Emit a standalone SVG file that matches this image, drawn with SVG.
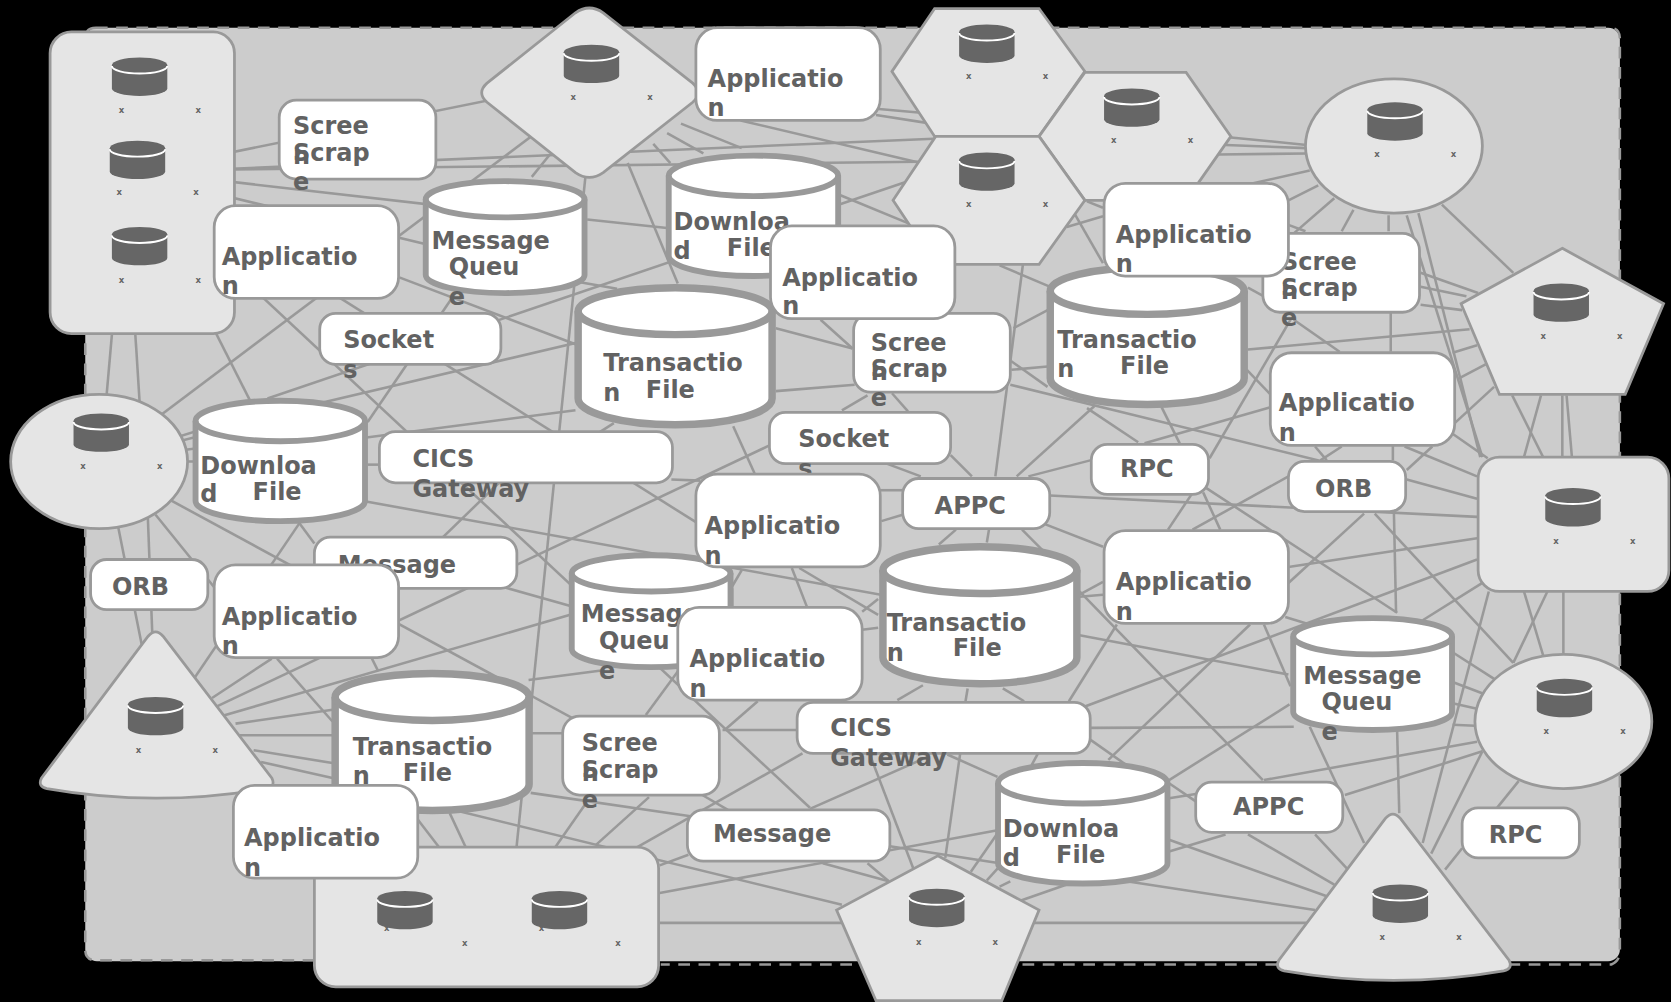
<svg xmlns="http://www.w3.org/2000/svg" width="1671" height="1002" viewBox="0 0 1671 1002">
<style>
.f{fill:#e5e5e5;stroke:#999;stroke-width:2.6}
.l{fill:#fff;stroke:#999;stroke-width:2.6}
.t{font-family:"DejaVu Sans",sans-serif;font-weight:700;font-size:22.5px;fill:#626262}
.x{font-family:"DejaVu Sans",sans-serif;font-size:8px;font-weight:700;fill:#666;text-anchor:middle}
.c5{fill:#fff;stroke:#999;stroke-width:5.5}
.c7{fill:#fff;stroke:#999;stroke-width:7}
.o{fill:none}
</style>
<defs>
<g id="icon"><path d="M-26,-11V11A26,7 0 0 0 26,11V-11Z" fill="#666"/><ellipse cx="0" cy="-11" rx="26" ry="7" fill="#666"/><path d="M-26,-10A26,7 0 0 0 26,-10" fill="none" stroke="#fff" stroke-width="1.8"/></g>
<g id="mq"><path class="c5" d="M1.5,19A74.5,17 0 0 1 150.5,19V90A74.5,17 0 0 1 1.5,90Z"/><path class="c5 o" d="M1.5,19A74.5,17 0 0 0 150.5,19"/></g>
<g id="df"><path class="c5" d="M1.5,21A79.5,19 0 0 1 160.5,21V96A79.5,19 0 0 1 1.5,96Z"/><path class="c5 o" d="M1.5,21A79.5,19 0 0 0 160.5,21"/></g>
<g id="tf"><path class="c7" d="M2.5,25A91,22 0 0 1 184.5,25V107A91,24.5 0 0 1 2.5,107Z"/><path class="c7 o" d="M2.5,25A91,22 0 0 0 184.5,25"/></g>
<path id="tri" class="f" d="M139,597Q146,589 153,597L255,730Q259,738 250,740Q146,758 44,740Q35,738 39,730Z"/>
<rect id="app" class="l" width="173" height="87" rx="20"/>
<rect id="ss" class="l" width="147" height="74" rx="16"/>
<rect id="sock" class="l" width="170" height="48" rx="15"/>
<rect id="cics" class="l" width="275" height="48" rx="15"/>
<rect id="small" class="l" width="110" height="47" rx="15"/>
<rect id="appc" class="l" width="138" height="47" rx="15"/>
<rect id="msg" class="l" width="190" height="48" rx="15"/>
</defs>
<rect width="1671" height="1002" fill="#000"/>
<g transform="scale(1.0657)">
<g id="frame">
<rect x="80" y="26" width="1440" height="876" rx="11" fill="#cccccc"/>
<path d="M90,26H1510Q1520,26 1520,36V892Q1520,902 1512,905H620M295,901H90Q80,901 80,891V36Q80,26 90,26" fill="none" stroke="#999" stroke-width="2.4" stroke-dasharray="11 8"/>
</g>
<g id="connectors" stroke="#999" stroke-width="2.4" fill="none">
<line x1="133" y1="160" x2="553" y2="75"/>
<line x1="133" y1="162" x2="926" y2="128"/>
<line x1="133" y1="160" x2="926" y2="151"/>
<line x1="133" y1="161" x2="474" y2="200"/>
<line x1="133" y1="165" x2="474" y2="247"/>
<line x1="93" y1="433" x2="553" y2="87"/>
<line x1="374" y1="260" x2="540" y2="323"/>
<line x1="210" y1="245" x2="760" y2="758"/>
<line x1="131" y1="171" x2="263" y2="432"/>
<line x1="105" y1="314" x2="100" y2="371"/>
<line x1="127" y1="314" x2="131" y2="377"/>
<line x1="288" y1="260" x2="653" y2="490"/>
<line x1="345" y1="396" x2="430" y2="271"/>
<line x1="251" y1="374" x2="852" y2="170"/>
<line x1="263" y1="387" x2="633" y2="300"/>
<line x1="93" y1="433" x2="263" y2="380"/>
<line x1="93" y1="433" x2="263" y2="410"/>
<line x1="93" y1="433" x2="263" y2="390"/>
<line x1="93" y1="433" x2="263" y2="433"/>
<line x1="263" y1="421" x2="540" y2="385"/>
<line x1="345" y1="436" x2="356" y2="436"/>
<line x1="93" y1="433" x2="602" y2="709"/>
<line x1="263" y1="456" x2="920" y2="575"/>
<line x1="100" y1="440" x2="146" y2="670"/>
<line x1="137" y1="440" x2="145" y2="650"/>
<line x1="146" y1="483" x2="201" y2="551"/>
<line x1="146" y1="690" x2="285" y2="485"/>
<line x1="199" y1="655" x2="255" y2="618"/>
<line x1="146" y1="690" x2="722" y2="418"/>
<line x1="146" y1="690" x2="610" y2="555"/>
<line x1="221" y1="679" x2="312" y2="666"/>
<line x1="225" y1="690" x2="312" y2="690"/>
<line x1="238" y1="704" x2="312" y2="716"/>
<line x1="245" y1="715" x2="312" y2="730"/>
<line x1="260" y1="618" x2="312" y2="677"/>
<line x1="349" y1="618" x2="355" y2="630"/>
<line x1="391" y1="528" x2="611" y2="590"/>
<line x1="553" y1="130" x2="478" y2="860"/>
<line x1="391" y1="528" x2="493" y2="429"/>
<line x1="281" y1="491" x2="295" y2="510"/>
<line x1="422" y1="763" x2="437" y2="795"/>
<line x1="392" y1="769" x2="412" y2="795"/>
<line x1="405" y1="755" x2="790" y2="849"/>
<line x1="498" y1="744" x2="648" y2="766"/>
<line x1="495" y1="688" x2="528" y2="688"/>
<line x1="496" y1="638" x2="566" y2="629"/>
<line x1="630" y1="450" x2="657" y2="451"/>
<line x1="606" y1="671" x2="636" y2="630"/>
<line x1="760" y1="759" x2="871" y2="710"/>
<line x1="678" y1="685" x2="748" y2="685"/>
<line x1="680" y1="685" x2="711" y2="658"/>
<line x1="659" y1="746" x2="683" y2="760"/>
<line x1="598" y1="795" x2="753" y2="707"/>
<line x1="609" y1="748" x2="559" y2="793"/>
<line x1="549" y1="755" x2="521" y2="795"/>
<line x1="619" y1="812" x2="646" y2="802"/>
<line x1="619" y1="838" x2="936" y2="779"/>
<line x1="619" y1="866" x2="1226" y2="866"/>
<line x1="772" y1="810" x2="834" y2="827"/>
<line x1="814" y1="810" x2="834" y2="827"/>
<line x1="817" y1="710" x2="857" y2="815"/>
<line x1="901" y1="707" x2="887" y2="805"/>
<line x1="835" y1="794" x2="938" y2="810"/>
<line x1="938" y1="779" x2="911" y2="818"/>
<line x1="936" y1="815" x2="926" y2="826"/>
<line x1="1001" y1="830" x2="958" y2="845"/>
<line x1="948" y1="827" x2="938" y2="832"/>
<line x1="889" y1="708" x2="936" y2="729"/>
<line x1="974" y1="707" x2="968" y2="718"/>
<line x1="842" y1="657" x2="866" y2="643"/>
<line x1="908" y1="646" x2="906" y2="658"/>
<line x1="941" y1="646" x2="961" y2="658"/>
<line x1="1003" y1="658" x2="1048" y2="586"/>
<line x1="1023" y1="683" x2="1214" y2="682"/>
<line x1="1023" y1="694" x2="1060" y2="720"/>
<line x1="809" y1="574" x2="824" y2="562"/>
<line x1="809" y1="591" x2="824" y2="589"/>
<line x1="743" y1="533" x2="757" y2="569"/>
<line x1="750" y1="533" x2="824" y2="577"/>
<line x1="696" y1="535" x2="686" y2="552"/>
<line x1="687" y1="552" x2="687" y2="570"/>
<line x1="881" y1="511" x2="897" y2="497"/>
<line x1="926" y1="509" x2="928" y2="497"/>
<line x1="978" y1="516" x2="959" y2="497"/>
<line x1="981" y1="492" x2="1035" y2="513"/>
<line x1="827" y1="489" x2="847" y2="483"/>
<line x1="1013" y1="558" x2="1035" y2="546"/>
<line x1="1013" y1="560" x2="1035" y2="558"/>
<line x1="1013" y1="596" x2="1209" y2="633"/>
<line x1="1013" y1="555" x2="1185" y2="732"/>
<line x1="822" y1="102" x2="867" y2="106"/>
<line x1="822" y1="108" x2="874" y2="116"/>
<line x1="695" y1="113" x2="864" y2="153"/>
<line x1="639" y1="116" x2="696" y2="139"/>
<line x1="626" y1="125" x2="660" y2="144"/>
<line x1="613" y1="135" x2="629" y2="153"/>
<line x1="589" y1="153" x2="636" y2="266"/>
<line x1="499" y1="166" x2="516" y2="145"/>
<line x1="551" y1="206" x2="626" y2="214"/>
<line x1="539" y1="264" x2="579" y2="271"/>
<line x1="788" y1="183" x2="856" y2="211"/>
<line x1="770" y1="300" x2="800" y2="327"/>
<line x1="728" y1="308" x2="800" y2="327"/>
<line x1="728" y1="367" x2="802" y2="361"/>
<line x1="688" y1="400" x2="708" y2="444"/>
<line x1="790" y1="385" x2="814" y2="371"/>
<line x1="837" y1="369" x2="852" y2="386"/>
<line x1="832" y1="435" x2="864" y2="447"/>
<line x1="892" y1="427" x2="912" y2="447"/>
<line x1="960" y1="247" x2="934" y2="447"/>
<line x1="1027" y1="381" x2="954" y2="447"/>
<line x1="1023" y1="432" x2="965" y2="447"/>
<line x1="938" y1="249" x2="985" y2="269"/>
<line x1="949" y1="339" x2="983" y2="363"/>
<line x1="951" y1="308" x2="983" y2="291"/>
<line x1="949" y1="347" x2="983" y2="344"/>
<line x1="948" y1="361" x2="1245" y2="434"/>
<line x1="824" y1="460" x2="847" y2="460"/>
<line x1="1008" y1="200" x2="1035" y2="247"/>
<line x1="1001" y1="213" x2="1035" y2="203"/>
<line x1="1020" y1="189" x2="1035" y2="195"/>
<line x1="576" y1="397" x2="562" y2="406"/>
<line x1="1155" y1="129" x2="1226" y2="136"/>
<line x1="1150" y1="136" x2="1226" y2="139"/>
<line x1="1143" y1="145" x2="1226" y2="144"/>
<line x1="1176" y1="172" x2="1229" y2="160"/>
<line x1="1209" y1="188" x2="1237" y2="174"/>
<line x1="1214" y1="219" x2="1252" y2="186"/>
<line x1="1259" y1="217" x2="1270" y2="197"/>
<line x1="1303" y1="217" x2="1303" y2="202"/>
<line x1="1320" y1="202" x2="1391" y2="429"/>
<line x1="1331" y1="200" x2="1389" y2="429"/>
<line x1="1353" y1="192" x2="1420" y2="256"/>
<line x1="1209" y1="211" x2="1225" y2="217"/>
<line x1="1333" y1="256" x2="1387" y2="275"/>
<line x1="1333" y1="269" x2="1376" y2="278"/>
<line x1="1333" y1="286" x2="1372" y2="291"/>
<line x1="1305" y1="292" x2="1305" y2="330"/>
<line x1="1171" y1="328" x2="1379" y2="309"/>
<line x1="1171" y1="270" x2="1186" y2="278"/>
<line x1="1214" y1="300" x2="1257" y2="330"/>
<line x1="1211" y1="300" x2="1135" y2="430"/>
<line x1="1363" y1="331" x2="1386" y2="324"/>
<line x1="1369" y1="355" x2="1394" y2="342"/>
<line x1="1364" y1="398" x2="1402" y2="363"/>
<line x1="1419" y1="371" x2="1448" y2="429"/>
<line x1="1446" y1="371" x2="1430" y2="429"/>
<line x1="1466" y1="371" x2="1466" y2="429"/>
<line x1="1470" y1="371" x2="1475" y2="429"/>
<line x1="1363" y1="407" x2="1396" y2="430"/>
<line x1="1318" y1="419" x2="1386" y2="447"/>
<line x1="1320" y1="450" x2="1386" y2="468"/>
<line x1="1320" y1="441" x2="1344" y2="419"/>
<line x1="1307" y1="418" x2="1307" y2="432"/>
<line x1="1234" y1="419" x2="1245" y2="432"/>
<line x1="1259" y1="419" x2="1239" y2="432"/>
<line x1="1209" y1="447" x2="1119" y2="497"/>
<line x1="1170" y1="347" x2="1193" y2="371"/>
<line x1="1193" y1="382" x2="1074" y2="416"/>
<line x1="1090" y1="382" x2="1107" y2="416"/>
<line x1="1020" y1="383" x2="1068" y2="415"/>
<line x1="985" y1="465" x2="1386" y2="485"/>
<line x1="1209" y1="532" x2="1386" y2="505"/>
<line x1="1209" y1="547" x2="1280" y2="482"/>
<line x1="1308" y1="482" x2="1310" y2="575"/>
<line x1="1290" y1="482" x2="1420" y2="622"/>
<line x1="1132" y1="458" x2="1311" y2="575"/>
<line x1="1018" y1="663" x2="1386" y2="525"/>
<line x1="1335" y1="582" x2="1391" y2="547"/>
<line x1="1397" y1="555" x2="1335" y2="791"/>
<line x1="1430" y1="555" x2="1448" y2="615"/>
<line x1="1452" y1="555" x2="1420" y2="622"/>
<line x1="1467" y1="555" x2="1467" y2="613"/>
<line x1="1363" y1="612" x2="1402" y2="637"/>
<line x1="1363" y1="640" x2="1392" y2="651"/>
<line x1="1363" y1="660" x2="1386" y2="665"/>
<line x1="1363" y1="680" x2="1384" y2="681"/>
<line x1="1186" y1="586" x2="1211" y2="644"/>
<line x1="1173" y1="586" x2="1040" y2="713"/>
<line x1="1210" y1="661" x2="1097" y2="732"/>
<line x1="1186" y1="732" x2="1386" y2="696"/>
<line x1="1262" y1="746" x2="1391" y2="705"/>
<line x1="1229" y1="682" x2="1280" y2="791"/>
<line x1="1311" y1="686" x2="1313" y2="763"/>
<line x1="1391" y1="705" x2="1343" y2="801"/>
<line x1="1425" y1="733" x2="1404" y2="759"/>
<line x1="1372" y1="796" x2="1356" y2="816"/>
<line x1="1171" y1="783" x2="1252" y2="830"/>
<line x1="1234" y1="783" x2="1264" y2="815"/>
<line x1="1097" y1="788" x2="1245" y2="841"/>
<line x1="1097" y1="799" x2="1150" y2="783"/>
<line x1="1051" y1="826" x2="1234" y2="854"/>
<line x1="1097" y1="735" x2="1122" y2="752"/>
<line x1="1097" y1="749" x2="1122" y2="745"/>
<line x1="1122" y1="458" x2="1096" y2="497"/>
<line x1="1129" y1="462" x2="1145" y2="497"/>
<line x1="1206" y1="579" x2="1229" y2="586"/>
</g>
<g id="group-rect-left"><rect class="f" x="47" y="30" width="173" height="283" rx="20"/><use href="#icon" x="131" y="72"/><use href="#icon" x="129" y="150"/><use href="#icon" x="131" y="231"/><text class="x" x="114" y="106">x</text><text class="x" x="186" y="106">x</text><text class="x" x="112" y="183">x</text><text class="x" x="184" y="183">x</text><text class="x" x="114" y="266">x</text><text class="x" x="186" y="266">x</text></g>
<g id="group-diamond"><path class="f" d="M457,78L540,12Q553,3 566,12L650,78Q660,87 650,96L566,162Q553,171 540,162L457,96Q447,87 457,78Z"/><use href="#icon" x="555" y="60"/><text class="x" x="538" y="94">x</text><text class="x" x="610" y="94">x</text></g>
<g id="group-hex-1"><path class="f" d="M837,67L877,8H975L1018,67L975,128H877Z"/><use href="#icon" x="926" y="41"/><text class="x" x="909" y="74">x</text><text class="x" x="981" y="74">x</text></g>
<g id="group-hex-2"><path class="f" d="M975,128L1018,68H1113L1155,128L1113,188H1018Z"/><use href="#icon" x="1062" y="101"/><text class="x" x="1045" y="134">x</text><text class="x" x="1117" y="134">x</text></g>
<g id="group-hex-3"><path class="f" d="M838,188L878,128H975L1018,188L975,248H878Z"/><use href="#icon" x="926" y="161"/><text class="x" x="909" y="194">x</text><text class="x" x="981" y="194">x</text></g>
<g id="group-ellipse-top"><ellipse class="f" cx="1308" cy="137" rx="83" ry="63"/><use href="#icon" x="1309" y="114"/><text class="x" x="1292" y="147">x</text><text class="x" x="1364" y="147">x</text></g>
<g id="group-pentagon-right"><path class="f" d="M1466,233L1561,285L1525,370H1407L1371,285Z"/><use href="#icon" x="1465" y="284"/><text class="x" x="1448" y="318">x</text><text class="x" x="1520" y="318">x</text></g>
<g id="group-rect-right"><rect class="f" x="1387" y="429" width="179" height="126" rx="20"/><use href="#icon" x="1476" y="476"/><text class="x" x="1460" y="510">x</text><text class="x" x="1532" y="510">x</text></g>
<g id="group-ellipse-right"><ellipse class="f" cx="1467" cy="677" rx="83" ry="63"/><use href="#icon" x="1468" y="655"/><text class="x" x="1451" y="689">x</text><text class="x" x="1523" y="689">x</text></g>
<g id="group-triangle-right"><use href="#tri" x="1161" y="171"/><use href="#icon" x="1314" y="848"/><text class="x" x="1297" y="882">x</text><text class="x" x="1369" y="882">x</text></g>
<g id="group-pentagon-bottom"><path class="f" d="M880,803L975,854L940,939H822L785,854Z"/><use href="#icon" x="879" y="852"/><text class="x" x="862" y="887">x</text><text class="x" x="934" y="887">x</text></g>
<g id="group-rect-bottom"><rect class="f" x="295" y="795" width="323" height="131" rx="20"/><text class="x" x="363" y="874">x</text><text class="x" x="508" y="874">x</text><use href="#icon" x="380" y="854"/><use href="#icon" x="525" y="854"/><text class="x" x="436" y="888">x</text><text class="x" x="580" y="888">x</text></g>
<g id="group-triangle-left"><use href="#tri"/><use href="#icon" x="146" y="672"/><text class="x" x="130" y="707">x</text><text class="x" x="202" y="707">x</text></g>
<g id="group-ellipse-left"><ellipse class="f" cx="93" cy="433" rx="83" ry="63"/><use href="#icon" x="95" y="406"/><text class="x" x="78" y="440">x</text><text class="x" x="150" y="440">x</text></g>
<g id="mq-1"><use href="#mq" x="398" y="168"/><text class="t" x="405" y="234">Message</text><text class="t" x="421" y="258">Queu</text><text class="t" x="421" y="286">e</text></g>
<g id="df-1"><use href="#df" x="626" y="144"/><text class="t" x="632" y="216">Downloa</text><text class="t" x="632" y="243">d</text><text class="t" x="682" y="240">File</text></g>
<g id="tf-1"><use href="#tf" x="540" y="267"/><text class="t" x="566" y="348">Transactio</text><text class="t" x="566" y="376">n</text><text class="t" x="606" y="373">File</text></g>
<g id="tf-2"><use href="#tf" x="983" y="248"/><text class="t" x="992" y="327">Transactio</text><text class="t" x="992" y="354">n</text><text class="t" x="1051" y="351">File</text></g>
<g id="df-2"><use href="#df" x="182" y="374"/><text class="t" x="188" y="445">Downloa</text><text class="t" x="188" y="471">d</text><text class="t" x="237" y="469">File</text></g>
<g id="mq-2"><use href="#mq" x="535" y="519"/><text class="t" x="545" y="584">Message</text><text class="t" x="562" y="609">Queu</text><text class="t" x="562" y="637">e</text></g>
<g id="tf-3"><use href="#tf" x="826" y="510"/><text class="t" x="832" y="592">Transactio</text><text class="t" x="832" y="620">n</text><text class="t" x="894" y="616">File</text></g>
<g id="mq-3"><use href="#mq" x="1212" y="578"/><text class="t" x="1223" y="642">Message</text><text class="t" x="1240" y="666">Queu</text><text class="t" x="1240" y="694">e</text></g>
<g id="tf-4"><use href="#tf" x="312" y="629"/><text class="t" x="331" y="708">Transactio</text><text class="t" x="331" y="736">n</text><text class="t" x="378" y="733">File</text></g>
<g id="df-3"><use href="#df" x="935" y="714"/><text class="t" x="941" y="785">Downloa</text><text class="t" x="941" y="813">d</text><text class="t" x="991" y="810">File</text></g>
<g id="socket-1"><use href="#sock" x="300" y="294"/><text class="t" x="322" y="327">Socket</text><text class="t" x="322" y="355">s</text></g>
<g id="socket-2"><use href="#sock" x="722" y="387"/><text class="t" x="749" y="419">Socket</text><text class="t" x="749" y="448">s</text></g>
<g id="cics-1"><use href="#cics" x="356" y="405"/><text class="t" x="387" y="438">CICS</text><text class="t" x="387" y="466">Gateway</text></g>
<g id="cics-2"><use href="#cics" x="748" y="659"/><text class="t" x="779" y="691">CICS</text><text class="t" x="779" y="719">Gateway</text></g>
<g id="rpc-1"><use href="#small" x="1024" y="417"/><text class="t" x="1051" y="448">RPC</text></g>
<g id="rpc-2"><use href="#small" x="1372" y="758"/><text class="t" x="1397" y="791">RPC</text></g>
<g id="orb-1"><use href="#small" x="1209" y="433"/><text class="t" x="1234" y="466">ORB</text></g>
<g id="orb-2"><use href="#small" x="85" y="525"/><text class="t" x="105" y="558">ORB</text></g>
<g id="appc-1"><use href="#appc" x="847" y="449"/><text class="t" x="877" y="482">APPC</text></g>
<g id="appc-2"><use href="#appc" x="1122" y="734"/><text class="t" x="1157" y="765">APPC</text></g>
<g id="message-1"><use href="#msg" x="295" y="504"/><text class="t" x="317" y="538">Message</text></g>
<g id="message-2"><use href="#msg" x="645" y="760"/><text class="t" x="669" y="790">Message</text></g>
<g id="screen-1"><use href="#ss" x="262" y="94"/><text class="t" x="275" y="126">Scree</text><text class="t" x="275" y="154">n</text><text class="t" x="275" y="151">Scrap</text><text class="t" x="275" y="178">e</text></g>
<g id="screen-2"><use href="#ss" x="1185" y="219"/><text class="t" x="1202" y="253">Scree</text><text class="t" x="1202" y="281">n</text><text class="t" x="1202" y="278">Scrap</text><text class="t" x="1202" y="306">e</text></g>
<g id="screen-3"><use href="#ss" x="801" y="294"/><text class="t" x="817" y="329">Scree</text><text class="t" x="817" y="357">n</text><text class="t" x="817" y="354">Scrap</text><text class="t" x="817" y="381">e</text></g>
<g id="screen-4"><use href="#ss" x="528" y="672"/><text class="t" x="546" y="705">Scree</text><text class="t" x="546" y="733">n</text><text class="t" x="546" y="730">Scrap</text><text class="t" x="546" y="758">e</text></g>
<g id="app-1"><use href="#app" x="653" y="26"/><text class="t" x="664" y="82">Applicatio</text><text class="t" x="664" y="109">n</text></g>
<g id="app-2"><use href="#app" x="201" y="193"/><text class="t" x="208" y="249">Applicatio</text><text class="t" x="208" y="276">n</text></g>
<g id="app-3"><use href="#app" x="723" y="212"/><text class="t" x="734" y="268">Applicatio</text><text class="t" x="734" y="295">n</text></g>
<g id="app-4"><use href="#app" x="1036" y="172"/><text class="t" x="1047" y="228">Applicatio</text><text class="t" x="1047" y="255">n</text></g>
<g id="app-5"><use href="#app" x="1192" y="331"/><text class="t" x="1200" y="386">Applicatio</text><text class="t" x="1200" y="414">n</text></g>
<g id="app-6"><use href="#app" x="653" y="445"/><text class="t" x="661" y="501">Applicatio</text><text class="t" x="661" y="529">n</text></g>
<g id="app-7"><use href="#app" x="1036" y="498"/><text class="t" x="1047" y="554">Applicatio</text><text class="t" x="1047" y="582">n</text></g>
<g id="app-8"><use href="#app" x="201" y="530"/><text class="t" x="208" y="586">Applicatio</text><text class="t" x="208" y="614">n</text></g>
<g id="app-9"><use href="#app" x="636" y="570"/><text class="t" x="647" y="626">Applicatio</text><text class="t" x="647" y="654">n</text></g>
<g id="app-10"><use href="#app" x="219" y="737"/><text class="t" x="229" y="794">Applicatio</text><text class="t" x="229" y="822">n</text></g>
</g>
</svg>
